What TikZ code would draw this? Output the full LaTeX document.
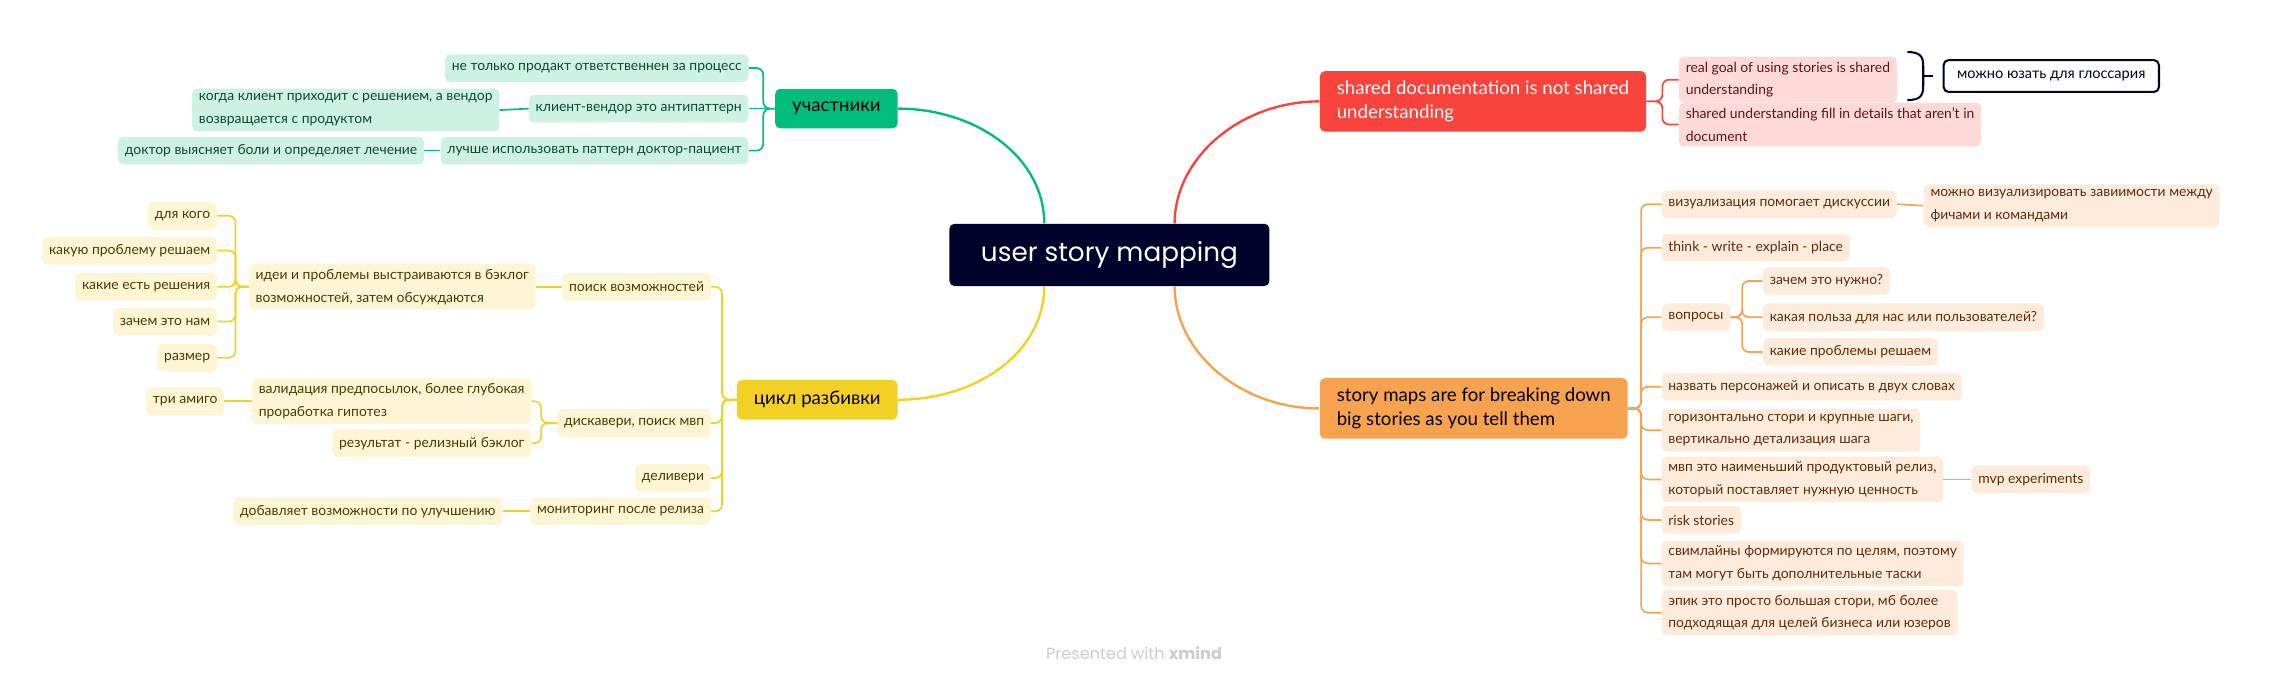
\documentclass[tikz,border=0pt]{standalone}
\usepackage{fontspec}
\setmainfont{Lato}
\newfontfamily\rootfont{Poppins}
\usetikzlibrary{positioning,calc}
\definecolor{navy}{HTML}{00022B}
\definecolor{grn}{HTML}{00BD7E}
\definecolor{grnlight}{HTML}{CDF2E4}
\definecolor{grntext}{HTML}{0B4A36}
\definecolor{yel}{HTML}{F2D124}
\definecolor{yellight}{HTML}{FDF5D3}
\definecolor{yeltext}{HTML}{4A3B05}
\definecolor{rd}{HTML}{F9443D}
\definecolor{rdlight}{HTML}{FDD9D8}
\definecolor{rdtext}{HTML}{5E1414}
\definecolor{org}{HTML}{F7A24F}
\definecolor{orglight}{HTML}{FEEBDB}
\definecolor{orgtext}{HTML}{5A2E0A}
\tikzset{
    treenode/.style = {align=left, rounded corners=3pt, inner ysep=3pt},
    % Central topic
    node_root/.style = {treenode, align=center, fill=navy, text=white, font=\rootfont\fontsize{15.5}{18}\selectfont, minimum width=6.63cm, minimum height=1.29cm},
    % Main topics
    node_main/.style = {treenode, inner xsep=10pt, inner ysep=5.5pt, minimum height=0.82cm, font=\fontsize{11}{14.5}\selectfont},
    % Subtopics
    node_sub/.style = {treenode, inner xsep=4pt, minimum height=0.57cm, font=\fontsize{8.2}{13.5}\selectfont},
    % Summary note
    node_note/.style = {treenode, draw=navy, line width=1.2pt, fill=white, text=navy, inner xsep=8pt, minimum height=0.66cm, font=\fontsize{8.6}{12.5}\selectfont},
    main_g/.style = {node_main, fill=grn, text=black},
    main_y/.style = {node_main, fill=yel, text=black},
    main_r/.style = {node_main, fill=rd, text=white},
    main_o/.style = {node_main, fill=org, text=black},
    sub_g/.style = {node_sub, fill=grnlight, text=grntext},
    sub_y/.style = {node_sub, fill=yellight, text=yeltext},
    sub_r/.style = {node_sub, fill=rdlight, text=rdtext},
    sub_o/.style = {node_sub, fill=orglight, text=orgtext},
    line_g/.style = {draw=grn, line width=1pt, rounded corners=4pt},
    line_y/.style = {draw=yel, line width=1pt, rounded corners=4pt},
    line_r/.style = {draw=rd, line width=1pt, rounded corners=4pt},
    line_o/.style = {draw=org, line width=1pt, rounded corners=4pt},
    line_n/.style = {draw=navy, line width=1.2pt}
}

\begin{document}
\begin{tikzpicture}[x=0.03cm, y=-0.03cm]
    \useasboundingbox (0,0) rectangle (1568,473);

    \node[node_root] (root) at (766,176) {user story mapping};

    % green branch
    \node[main_g, anchor=east] (g) at (620,75) {участники};
    \node[sub_g, anchor=east] (g1) at (517,47) {не только продакт ответственнен за процесс};
    \node[sub_g, anchor=east] (g2) at (517,75) {клиент-вендор это антипаттерн};
    \node[sub_g, anchor=east] (g2a) at (345,76) {когда клиент приходит с решением, а вендор\\возвращается с продуктом};
    \node[sub_g, anchor=east] (g3) at (517,104) {лучше использовать паттерн доктор-пациент};
    \node[sub_g, anchor=east] (g3a) at (293,104) {доктор выясняет боли и определяет лечение};

    \draw[draw=grn, line width=1.4pt] ($(root.north)+(-45,0)$) .. controls +(0,-45) and +(55,0) .. (g.east);
    \draw[line_g] (g.west) -- ++(-8,0) |- (g1.east);
    \draw[line_g] (g.west) -- ++(-8,0) |- (g3.east);
    \draw[line_g] (g.west) -- (g2.east);
    \draw[line_g] (g2.west) -- (g2a.east);
    \draw[line_g] (g3.west) -- (g3a.east);

    % yellow branch
    \node[main_y, anchor=east] (y) at (620,276) {цикл разбивки};
    \node[sub_y, anchor=east] (y1) at (491,198) {поиск возможностей};
    \node[sub_y, anchor=east] (y1a) at (370,198) {идеи и проблемы выстраиваются в бэклог\\возможностей, затем обсуждаются};
    \node[sub_y, anchor=east] (y1a1) at (150,149) {для кого};
    \node[sub_y, anchor=east] (y1a2) at (150,173) {какую проблему решаем};
    \node[sub_y, anchor=east] (y1a3) at (150,198) {какие есть решения};
    \node[sub_y, anchor=east] (y1a4) at (150,222) {зачем это нам};
    \node[sub_y, anchor=east] (y1a5) at (150,247) {размер};
    \node[sub_y, anchor=east] (y2) at (491,292) {дискавери, поиск мвп};
    \node[sub_y, anchor=east] (y2a) at (367,277) {валидация предпосылок, более глубокая\\проработка гипотез};
    \node[sub_y, anchor=east] (y2a1) at (155,277) {три амиго};
    \node[sub_y, anchor=east] (y2b) at (367,306) {результат - релизный бэклог};
    \node[sub_y, anchor=east] (y3) at (491,330) {деливери};
    \node[sub_y, anchor=east] (y4) at (491,353) {мониторинг после релиза};
    \node[sub_y, anchor=east] (y4a) at (347,353) {добавляет возможности по улучшению};

    \draw[draw=yel, line width=1.4pt] ($(root.south)+(-45,0)$) .. controls +(0,45) and +(55,0) .. (y.east);
    \foreach \k in {y1,y2,y3,y4}
        \draw[line_y] (y.west) -- ++(-10,0) |- (\k.east);
    \draw[line_y] (y1.west) -- (y1a.east);
    \foreach \k in {y1a1,y1a2,y1a3,y1a4,y1a5}
        \draw[line_y] (y1a.west) -- ++(-9,0) |- (\k.east);
    \draw[line_y] (y2.west) -- ++(-11,0) |- (y2a.east);
    \draw[line_y] (y2.west) -- ++(-11,0) |- (y2b.east);
    \draw[line_y] (y2a.west) -- (y2a1.east);
    \draw[line_y] (y4.west) -- (y4a.east);

    % red branch
    \node[main_r, anchor=west] (r) at (911,70) {shared documentation is not shared\\understanding};
    \node[sub_r, anchor=west] (r1) at (1159,55) {real goal of using stories is shared\\understanding};
    \node[sub_r, anchor=west] (r2) at (1159,86) {shared understanding fill in details that aren’t in\\document};

    \draw[draw=rd, line width=1.4pt] ($(root.north)+(45,0)$) .. controls +(0,-45) and +(-55,0) .. (r.west);
    \draw[line_r] (r.east) -- ++(11,0) |- (r1.west);
    \draw[line_r] (r.east) -- ++(11,0) |- (r2.west);

    % summary brace
    \coordinate (bt) at ($(r1.north east)+(7,-3)$);
    \coordinate (bb) at ($(r1.south east)+(7,-2)$);
    \coordinate (bm) at ($(bt)!0.5!(bb)+(11,0)$);
    \draw[line_n] (bt) .. controls +(9,0) and +(0,-7) .. ($(bt)+(11,10)$) -- ($(bb)+(11,-10)$) .. controls +(0,7) and +(9,0) .. (bb);
    \node[node_note, right=0.4cm of bm] (note) {можно юзать для глоссария};
    \draw[line_n] (bm) -- ++(7,0);

    % orange branch
    \node[main_o, anchor=west] (o) at (911,282) {story maps are for breaking down\\big stories as you tell them};
    \node[sub_o, anchor=west] (o1) at (1147,141) {визуализация помогает дискуссии};
    \node[sub_o, anchor=west] (o1a) at (1328,142) {можно визуализировать завиимости между\\фичами и командами};
    \node[sub_o, anchor=west] (o2) at (1147,171) {think - write - explain - place};
    \node[sub_o, anchor=west] (o3) at (1147,219) {вопросы};
    \node[sub_o, anchor=west] (o3a) at (1217,194) {зачем это нужно?};
    \node[sub_o, anchor=west] (o3b) at (1217,219) {какая польза для нас или пользователей?};
    \node[sub_o, anchor=west] (o3c) at (1217,243) {какие проблемы решаем};
    \node[sub_o, anchor=west] (o4) at (1147,267) {назвать персонажей и описать в двух словах};
    \node[sub_o, anchor=west] (o5) at (1147,297) {горизонтально стори и крупные шаги,\\вертикально детализация шага};
    \node[sub_o, anchor=west] (o6) at (1147,331) {мвп это наименьший продуктовый релиз,\\который поставляет нужную ценность};
    \node[sub_o, anchor=west] (o6a) at (1361,331) {mvp experiments};
    \node[sub_o, anchor=west] (o7) at (1147,359) {risk stories};
    \node[sub_o, anchor=west] (o8) at (1147,389) {свимлайны формируются по целям, поэтому\\там могут быть дополнительные таски};
    \node[sub_o, anchor=west] (o9) at (1147,423) {эпик это просто большая стори, мб более\\подходящая для целей бизнеса или юзеров};

    \draw[draw=org, line width=1.4pt] ($(root.south)+(45,0)$) .. controls +(0,45) and +(-55,0) .. (o.west);
    \foreach \k in {o1,o2,o3,o4,o5,o6,o7,o8,o9}
        \draw[line_o] (o.east) -- ++(9,0) |- (\k.west);
    \draw[line_o] (o1.east) -- (o1a.west);
    \foreach \k in {o3a,o3b,o3c}
        \draw[line_o] (o3.east) -- ++(8,0) |- (\k.west);
    \draw[line_o] (o6.east) -- (o6a.west);

    \node[font=\rootfont\fontsize{9.5}{11}\selectfont, text=black!20] (credit) at (783,451) {Presented with \textbf{xmind}};
\end{tikzpicture}
\end{document}
